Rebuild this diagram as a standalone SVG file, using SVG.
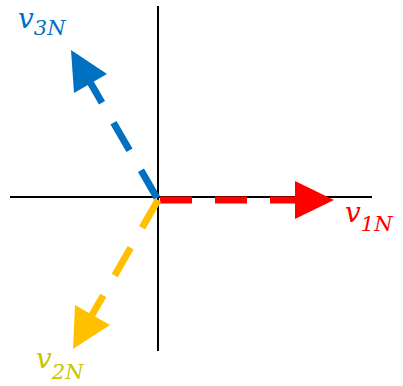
<svg xmlns="http://www.w3.org/2000/svg" width="403" height="386" viewBox="0 0 403 386">
<style>
.ax{stroke:#000;stroke-width:2;fill:none}
.vec{stroke-width:7;fill:none;stroke-dasharray:32 23}
.lbl{font-family:"DejaVu Serif","Liberation Serif",serif;font-style:italic;font-size:28px}
.sub{font-size:21px}
</style>
<g id="axes">
<line class="ax" x1="158" y1="6" x2="158" y2="351"/>
<line class="ax" x1="10" y1="197" x2="372" y2="197"/>
</g>
<g id="connectors">
<line class="vec" stroke="#FF0000" x1="160" y1="200" x2="298" y2="200"/>
<polygon fill="#FF0000" points="334,200 295,181 295,219"/>
<line class="vec" stroke="#0070C0" x1="157" y1="198" x2="90" y2="82"/>
<polygon fill="#0070C0" points="71,50 74,93 107,74"/>
<line class="vec" stroke="#FFC000" x1="158" y1="200" x2="92" y2="315"/>
<polygon fill="#FFC000" points="73,349 75,305 110,325"/>
</g>
<g id="label-v1N">
<text class="lbl" x="345" y="222" fill="#FF0000">v<tspan class="sub" dy="9">1N</tspan></text>
</g>
<g id="label-v2N">
<text class="lbl" x="36" y="368" fill="#C8C400">v<tspan class="sub" dy="11">2N</tspan></text>
</g>
<g id="label-v3N">
<text class="lbl" x="18" y="28" fill="#0070C0">v<tspan class="sub" dy="7">3N</tspan></text>
</g>
</svg>
